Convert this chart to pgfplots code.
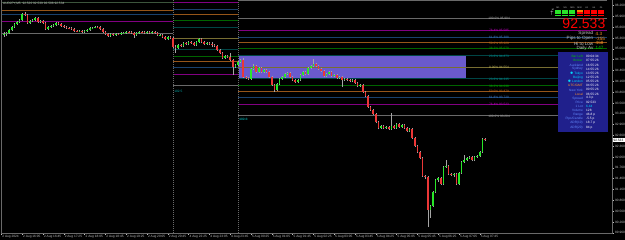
\documentclass[border=0pt]{standalone}
\usepackage{pgfplots}
\pgfplotsset{compat=1.18}
\usepackage{pgfplotstable}
\usepackage{fontspec}
\setmainfont{Liberation Sans}
\definecolor{bull}{RGB}{40,230,40}
\definecolor{bear}{RGB}{235,55,55}
\definecolor{wick}{RGB}{165,165,165}
\definecolor{fgray}{RGB}{105,105,105}
\definecolor{fpurple}{RGB}{130,0,130}
\definecolor{fblue}{RGB}{25,65,110}
\definecolor{forange}{RGB}{150,85,25}
\definecolor{fgreen}{RGB}{0,100,0}
\definecolor{fteal}{RGB}{0,70,70}
\definecolor{folive}{RGB}{120,110,50}
\definecolor{fdkgreen}{RGB}{60,85,60}
\definecolor{tgray}{RGB}{170,170,170}
\definecolor{tpurple}{RGB}{190,0,190}
\definecolor{tblue}{RGB}{60,120,200}
\definecolor{torange}{RGB}{200,110,30}
\definecolor{tgreen}{RGB}{0,170,0}
\definecolor{tteal}{RGB}{0,150,150}
\definecolor{tolive}{RGB}{190,180,90}
\definecolor{slate}{RGB}{106,90,205}
\definecolor{panel}{RGB}{32,32,140}
\definecolor{axgray}{RGB}{190,190,190}
\definecolor{lblue}{RGB}{100,140,255}
\definecolor{lcyan}{RGB}{0,220,255}
\definecolor{lorange}{RGB}{255,150,40}
\definecolor{lgreen}{RGB}{0,200,0}
\definecolor{tealtxt}{RGB}{0,170,170}
\newcommand\tf{\fontsize{3.2}{3.8}\selectfont}
\newcommand\hl[4]{\addplot[#1, line width=0.6pt] coordinates {(#2,#4) (#3,#4)};}
\newcommand\fl[3]{\node[anchor=center, inner sep=0pt, text=#1, font=\tf, yshift=-0.3pt] at (axis cs:190.4,#2) {#3};}
\pgfplotstableread{
i o h l c
0 95.44 95.53 95.39 95.47
1 95.47 95.53 95.42 95.50
2 95.50 95.61 95.47 95.58
3 95.58 95.69 95.56 95.67
4 95.67 95.78 95.64 95.75
5 95.75 95.83 95.72 95.81
6 95.81 95.89 95.78 95.86
7 95.86 96.06 95.83 96.03
8 96.03 96.08 95.97 96.00
9 96.00 96.03 95.75 95.78
10 95.78 95.86 95.75 95.83
11 95.83 95.89 95.81 95.86
12 95.86 95.94 95.83 95.92
13 95.92 95.94 95.78 95.81
14 95.81 95.86 95.78 95.83
15 95.83 95.86 95.75 95.78
16 95.78 95.81 95.58 95.61
17 95.61 95.69 95.58 95.67
18 95.67 95.72 95.64 95.69
19 95.69 95.75 95.67 95.72
20 95.72 95.81 95.69 95.78
21 95.78 95.81 95.72 95.75
22 95.75 95.78 95.67 95.69
23 95.69 95.72 95.64 95.67
24 95.67 95.69 95.61 95.64
25 95.64 95.67 95.61 95.63
26 95.63 95.67 95.58 95.61
27 95.61 95.64 95.53 95.56
28 95.56 95.58 95.53 95.55
29 95.55 95.58 95.53 95.56
30 95.56 95.58 95.50 95.53
31 95.53 95.58 95.50 95.56
32 95.56 95.61 95.53 95.58
33 95.58 95.67 95.56 95.64
34 95.64 95.67 95.61 95.65
35 95.65 95.69 95.63 95.67
36 95.67 95.69 95.64 95.66
37 95.66 95.69 95.58 95.61
38 95.61 95.63 95.50 95.53
39 95.53 95.55 95.44 95.47
40 95.47 95.50 95.39 95.42
41 95.42 95.50 95.39 95.47
42 95.47 95.50 95.42 95.44
43 95.44 95.50 95.42 95.47
44 95.47 95.50 95.44 95.46
45 95.46 95.53 95.44 95.50
46 95.50 95.53 95.47 95.51
47 95.51 95.56 95.48 95.53
48 95.53 95.56 95.50 95.52
49 95.52 95.55 95.47 95.50
50 95.50 95.53 95.36 95.44
51 95.44 95.53 95.42 95.50
52 95.50 95.56 95.47 95.53
53 95.53 95.55 95.50 95.52
54 95.52 95.55 95.47 95.50
55 95.50 95.55 95.47 95.53
56 95.53 95.55 95.47 95.49
57 95.49 95.55 95.47 95.52
58 95.52 95.55 95.47 95.50
59 95.50 95.52 95.42 95.44
60 95.44 95.47 95.42 95.45
61 95.45 95.47 95.36 95.39
62 95.39 95.41 95.30 95.33
63 95.33 95.41 95.30 95.39
64 95.39 95.41 95.33 95.36
65 95.36 95.39 95.08 95.11
66 95.11 95.17 94.95 95.08
67 95.08 95.20 95.06 95.17
68 95.17 95.20 95.11 95.14
69 95.14 95.25 95.11 95.22
70 95.22 95.25 95.17 95.20
71 95.20 95.28 95.17 95.25
72 95.25 95.28 95.20 95.22
73 95.22 95.25 95.14 95.17
74 95.17 95.28 95.14 95.25
75 95.25 95.36 95.22 95.33
76 95.33 95.36 95.22 95.25
77 95.25 95.28 95.17 95.20
78 95.20 95.25 95.17 95.22
79 95.22 95.25 95.17 95.19
80 95.19 95.25 95.11 95.17
81 95.17 95.20 95.11 95.14
82 95.14 95.17 95.00 95.03
83 95.03 95.06 94.92 94.95
84 94.95 94.97 94.78 94.81
85 94.81 94.89 94.78 94.86
86 94.86 94.89 94.81 94.83
87 94.83 94.95 94.72 94.75
88 94.75 94.78 94.34 94.56
89 94.56 94.64 94.53 94.61
90 94.61 94.72 94.58 94.70
91 94.70 94.78 94.67 94.75
92 94.75 94.81 94.25 94.28
93 94.28 94.31 94.22 94.25
94 94.25 94.28 94.20 94.23
95 94.23 94.53 94.20 94.50
96 94.50 94.64 94.47 94.59
97 94.59 94.61 94.39 94.42
98 94.42 94.56 94.39 94.53
99 94.53 94.56 94.39 94.42
100 94.42 94.50 94.39 94.47
101 94.47 94.50 94.39 94.42
102 94.42 94.45 94.25 94.28
103 94.28 94.31 94.03 94.06
104 94.06 94.09 93.86 93.92
105 93.92 94.11 93.89 94.09
106 94.09 94.25 94.06 94.22
107 94.22 94.31 94.20 94.28
108 94.28 94.39 94.25 94.36
109 94.36 94.42 94.34 94.39
110 94.39 94.42 94.25 94.28
111 94.28 94.31 94.17 94.20
112 94.20 94.22 94.11 94.14
113 94.14 94.22 94.11 94.20
114 94.20 94.36 94.17 94.34
115 94.34 94.45 94.31 94.42
116 94.42 94.45 94.34 94.36
117 94.36 94.56 94.34 94.53
118 94.53 94.61 94.50 94.59
119 94.59 94.78 94.56 94.64
120 94.64 94.67 94.56 94.59
121 94.59 94.61 94.47 94.50
122 94.50 94.53 94.42 94.45
123 94.45 94.47 94.28 94.31
124 94.31 94.39 94.28 94.36
125 94.36 94.45 94.34 94.42
126 94.42 94.45 94.28 94.31
127 94.31 94.36 94.28 94.34
128 94.34 94.36 94.22 94.25
129 94.25 94.31 94.22 94.28
130 94.28 94.31 94.00 94.20
131 94.20 94.25 94.17 94.22
132 94.22 94.25 94.17 94.19
133 94.19 94.22 94.14 94.17
134 94.17 94.22 94.14 94.20
135 94.20 94.22 94.09 94.11
136 94.11 94.14 94.00 94.03
137 94.03 94.09 94.00 94.06
138 94.06 94.09 93.83 93.86
139 93.86 93.89 93.72 93.75
140 93.75 93.78 93.42 93.45
141 93.45 93.47 93.34 93.37
142 93.37 93.39 93.22 93.25
143 93.25 93.28 93.00 93.03
144 93.03 93.06 92.83 92.87
145 92.87 92.95 92.84 92.92
146 92.92 92.95 92.84 92.87
147 92.87 92.92 92.84 92.89
148 92.89 92.92 92.81 92.84
149 92.84 93.28 92.81 92.92
150 92.92 92.95 92.84 92.87
151 92.87 93.00 92.84 92.98
152 92.98 93.00 92.86 92.89
153 92.89 92.98 92.86 92.95
154 92.95 92.98 92.84 92.87
155 92.87 92.89 92.75 92.78
156 92.78 92.87 92.75 92.84
157 92.84 92.87 92.56 92.59
158 92.59 92.61 92.34 92.37
159 92.37 92.39 92.17 92.20
160 92.20 92.23 92.00 92.03
161 92.03 92.06 91.51 91.54
162 91.54 91.56 91.45 91.51
163 91.51 91.54 90.12 90.59
164 90.59 90.73 90.37 90.70
165 90.70 91.12 90.67 91.09
166 91.09 91.45 91.06 91.42
167 91.42 91.51 91.37 91.48
168 91.48 91.51 91.28 91.31
169 91.31 91.81 91.28 91.78
170 91.78 91.98 91.76 91.81
171 91.81 91.84 91.56 91.59
172 91.59 91.62 91.53 91.56
173 91.56 91.62 91.51 91.59
174 91.59 91.62 91.28 91.31
175 91.31 91.65 91.28 91.62
176 91.62 91.95 91.59 91.92
177 91.92 92.12 91.90 91.98
178 91.98 92.06 91.95 92.03
179 92.03 92.09 92.00 92.06
180 92.06 92.09 91.95 91.98
181 91.98 92.09 91.95 92.06
182 92.06 92.12 92.03 92.09
183 92.09 92.23 92.06 92.20
184 92.20 92.59 92.17 92.56
185 92.56 92.60 92.51 92.533
}\candles
\begin{document}
\begin{tikzpicture}
\path[use as bounding box, fill=black] (0pt,0pt) rectangle (625pt,240pt);
\begin{axis}[
  at={(1pt,7.04pt)}, anchor=south west, scale only axis,
  width=611pt, height=232.96pt,
  xmin=-1.1538, xmax=233.846, ymin=89.955, ymax=96.415,
  axis line style={draw=none},
  clip mode=individual,
  tick align=outside, major tick length=2pt,
  tick style={draw=axgray, line width=0.4pt},
  xtick pos=bottom, ytick pos=right,
  ytick={89.96,90.26,90.56,90.86,91.16,91.46,91.76,92.06,92.36,92.66,92.96,93.26,93.56,93.86,94.16,94.46,94.76,95.06,95.36,95.66,95.96,96.26},
  yticklabel pos=right,
  /pgf/number format/assume math mode=true,
  /pgf/number format/fixed,
  /pgf/number format/fixed zerofill,
  /pgf/number format/precision=3,
  /pgf/number format/1000 sep={},
  yticklabel style={font=\tf, text=axgray, anchor=west, inner sep=0pt, xshift=1pt},
  xtick={-1,7,15,23,31,39,47,55,63,71,79,87,95,103,111,119,127,135,143,151,159,167,175,183},
  xticklabels={2 Aug 2024,2 Aug 16:05,2 Aug 16:45,2 Aug 17:25,2 Aug 18:05,2 Aug 18:45,2 Aug 19:25,2 Aug 20:05,2 Aug 20:45,4 Aug 22:25,4 Aug 23:05,4 Aug 23:45,5 Aug 00:25,5 Aug 01:05,5 Aug 01:45,5 Aug 02:25,5 Aug 03:05,5 Aug 03:45,5 Aug 04:25,5 Aug 05:05,5 Aug 05:45,5 Aug 06:25,5 Aug 07:05,5 Aug 07:45},
  xticklabel style={font=\tf, text=axgray, anchor=north west, inner sep=0pt, xshift=0.8pt, yshift=-0.5pt},
]
% supply / demand zone
\addplot[fill=slate, draw=none] coordinates {(90.4,94.252) (177.7,94.252) (177.7,94.862) (90.4,94.862)} -- cycle;
% fibonacci levels, 2 Aug
\hl{fdkgreen}{-1.1538}{65}{96.34}
\hl{forange}{-1.1538}{65}{96.14}
\hl{fblue}{-1.1538}{65}{96.02}
\addplot[fpurple, line width=1.1pt] coordinates {(-1.1538,95.82) (65,95.82)};
\hl{fgray}{-1.1538}{65}{95.486}
% fibonacci levels, 4 Aug
\hl{fpurple}{65}{90}{96.353}
\hl{fblue}{65}{90}{96.163}
\hl{forange}{65}{90}{96.010}
\hl{fgreen}{65}{90}{95.857}
\hl{fteal}{65}{90}{95.667}
\hl{folive}{65}{90}{95.36}
\hl{fteal}{65}{90}{95.053}
\hl{fgreen}{65}{90}{94.863}
\hl{forange}{65}{90}{94.710}
\hl{fblue}{65}{90}{94.557}
\hl{fpurple}{65}{90}{94.367}
\hl{fgray}{65}{90}{94.060}
% fibonacci levels, 5 Aug
\hl{fgray}{90}{231.9}{96.396}
\hl{fgray}{90}{231.9}{95.904}
\hl{fpurple}{90}{231.9}{95.585}
\hl{fblue}{90}{231.9}{95.388}
\hl{forange}{90}{231.9}{95.229}
\hl{fgreen}{90}{231.9}{95.070}
\hl{fteal}{90}{231.9}{94.873}
\hl{folive}{90}{231.9}{94.554}
\hl{fteal}{90}{231.9}{94.235}
\hl{fgreen}{90}{231.9}{94.038}
\hl{forange}{90}{231.9}{93.879}
\hl{fblue}{90}{231.9}{93.720}
\hl{fpurple}{90}{231.9}{93.523}
\hl{fgray}{90}{231.9}{93.204}
% period separators
\addplot[fgray, line width=0.6pt, dash pattern=on 1pt off 1pt] coordinates {(65,89.955) (65,96.415)};
\addplot[fgray, line width=0.6pt, dash pattern=on 1pt off 1pt] coordinates {(90,89.955) (90,96.415)};
% candles
\addplot[draw=wick, line width=0.5pt, quiver={u=0, v=\thisrow{h}-\thisrow{l}}] table[x=i, y=l] {\candles};
\addplot[draw=bull, line width=1.7pt, quiver={u=0, v=\thisrow{c}-\thisrow{o}},
  restrict expr to domain={\thisrow{c}-\thisrow{o}}{0:50}, unbounded coords=discard] table[x=i, y=o] {\candles};
\addplot[draw=bear, line width=1.7pt, quiver={u=0, v=\thisrow{c}-\thisrow{o}},
  restrict expr to domain={\thisrow{c}-\thisrow{o}}{-50:-0.000001}, unbounded coords=discard] table[x=i, y=o] {\candles};
% fibonacci labels
\fl{tgray}{95.904}{100.0\% 95.904}
\fl{tpurple}{95.585}{76.4\% 95.585}
\fl{tblue}{95.388}{61.8\% 95.388}
\fl{torange}{95.229}{50.0\% 95.229}
\fl{tgreen}{95.070}{38.2\% 95.070}
\fl{tteal}{94.873}{23.6\% 94.873}
\fl{tolive}{94.554}{0.00\% 94.554}
\fl{tteal}{94.235}{23.6\% 94.235}
\fl{tgreen}{94.038}{38.2\% 94.038}
\fl{torange}{93.879}{50.0\% 93.879}
\fl{tblue}{93.720}{61.8\% 93.720}
\fl{tpurple}{93.523}{76.4\% 93.523}
\fl{tgray}{93.204}{100.0\% 93.204}
\node[anchor=west, inner sep=0.3pt, text=tealtxt, font=\tf] at (axis cs:65.3,93.892) {102.5};
\node[anchor=west, inner sep=0.3pt, text=tealtxt, fill=fteal!40!black, font=\tf] at (axis cs:90.3,93.115) {102.3};
\end{axis}
% chart frame
\draw[fgray, line width=0.5pt] (1pt,240pt) -- (1pt,7pt) -- (612pt,7pt) -- (612pt,240pt);
% current price box
\fill[white] (612.5pt,97.9pt) rectangle (625pt,102.1pt);
\node[anchor=west, inner sep=0pt, font=\tf, text=black] at (613.3pt,100pt) {92.533};
% symbol header
\node[anchor=west, inner sep=0pt, font=\tf, text=axgray] at (3pt,236.3pt) {AUDJPY,M5\ \ 92.520 92.539 92.508 92.534};
% signal bars
\foreach \k/\ca/\cb/\cc/\lab in {0/bull/bull/bull/M1,1/bull/bull/bull/M5,2/bull/bull/bull/M15,3/orange/red/red/M30,4/red/red/red/H1,5/red/red/red/H4,6/red/red/red/D1}{
  \fill[\ca] (555pt+7.2pt*\k,229.7pt) rectangle ++(6pt,-1.6pt);
  \fill[\cb] (555pt+7.2pt*\k,227.5pt) rectangle ++(6pt,-1.6pt);
  \fill[\cc] (555pt+7.2pt*\k,225.3pt) rectangle ++(6pt,-1.6pt);
  \node[inner sep=0pt, font=\fontsize{2.2}{2.6}\selectfont, text=axgray] at (558pt+7.2pt*\k,232.4pt) {\lab};
}
\node[anchor=east, inner sep=0pt, font=\fontsize{2.2}{2.6}\selectfont, text=white, align=right] at (554pt,227.5pt) {M\\$\uparrow$};
% big price
\node[anchor=base east, inner sep=0pt, font=\fontsize{14}{14}\selectfont, text=red] at (605.5pt,211pt) {92.533};
% spread lines
\foreach \y/\a/\b/\col in {206.2/Spread/4.3/lorange,201.4/Pips to Open/-355/lorange,196.6/Hi to Low/468/lorange,191.8/Daily Av/147/lgreen}{
  \node[anchor=east, inner sep=0pt, font=\fontsize{4.6}{5}\selectfont, text=axgray] at (593.5pt,\y pt) {\a};
  \node[anchor=west, inner sep=0pt, font=\fontsize{4.6}{5}\selectfont, text=\col] at (595.5pt,\y pt) {\b};
}
% info panel
\fill[panel] (558pt,108.3pt) rectangle (607.5pt,187.7pt);
\foreach \k/\a/\ac/\b/\bc in {0/Bar Left/lgreen/00:04:34/white,1/Broker/lgreen/07:55:26/white,2/Auckland/lblue/16:55:26/white,3/Sydney/lblue/14:55:26/white,4/$\bullet$ Tokyo/lcyan/13:55:26/white,5/Beijing/lcyan/12:55:26/white,6/$\bullet$ London/lcyan/05:55:26/white,7/{UTC/GMT}/lorange/04:55:26/white,8/New York/lblue/00:55:26/white,9/Local/lorange/06:55:26/white,10/Spread/lblue/4.3 p/white,11/Price/lblue/92.533/white,12/1 Lot/lblue/6.44/lcyan,13/Volume/lblue/128/white,14/Range/lblue/46.8 p/white,15/{Pips/Candle}/lblue/-5.5 p/white,16/ADR(10)/lblue/18.7 p/white,17/ADR(20)/lblue/84 p/white}{
  \node[anchor=east, inner sep=0pt, font=\tf, text=\ac] at (583pt,183.3pt-4.15pt*\k) {\a};
  \node[anchor=west, inner sep=0pt, font=\tf, text=\bc] at (586pt,183.3pt-4.15pt*\k) {\b};
}
\end{tikzpicture}
\end{document}
